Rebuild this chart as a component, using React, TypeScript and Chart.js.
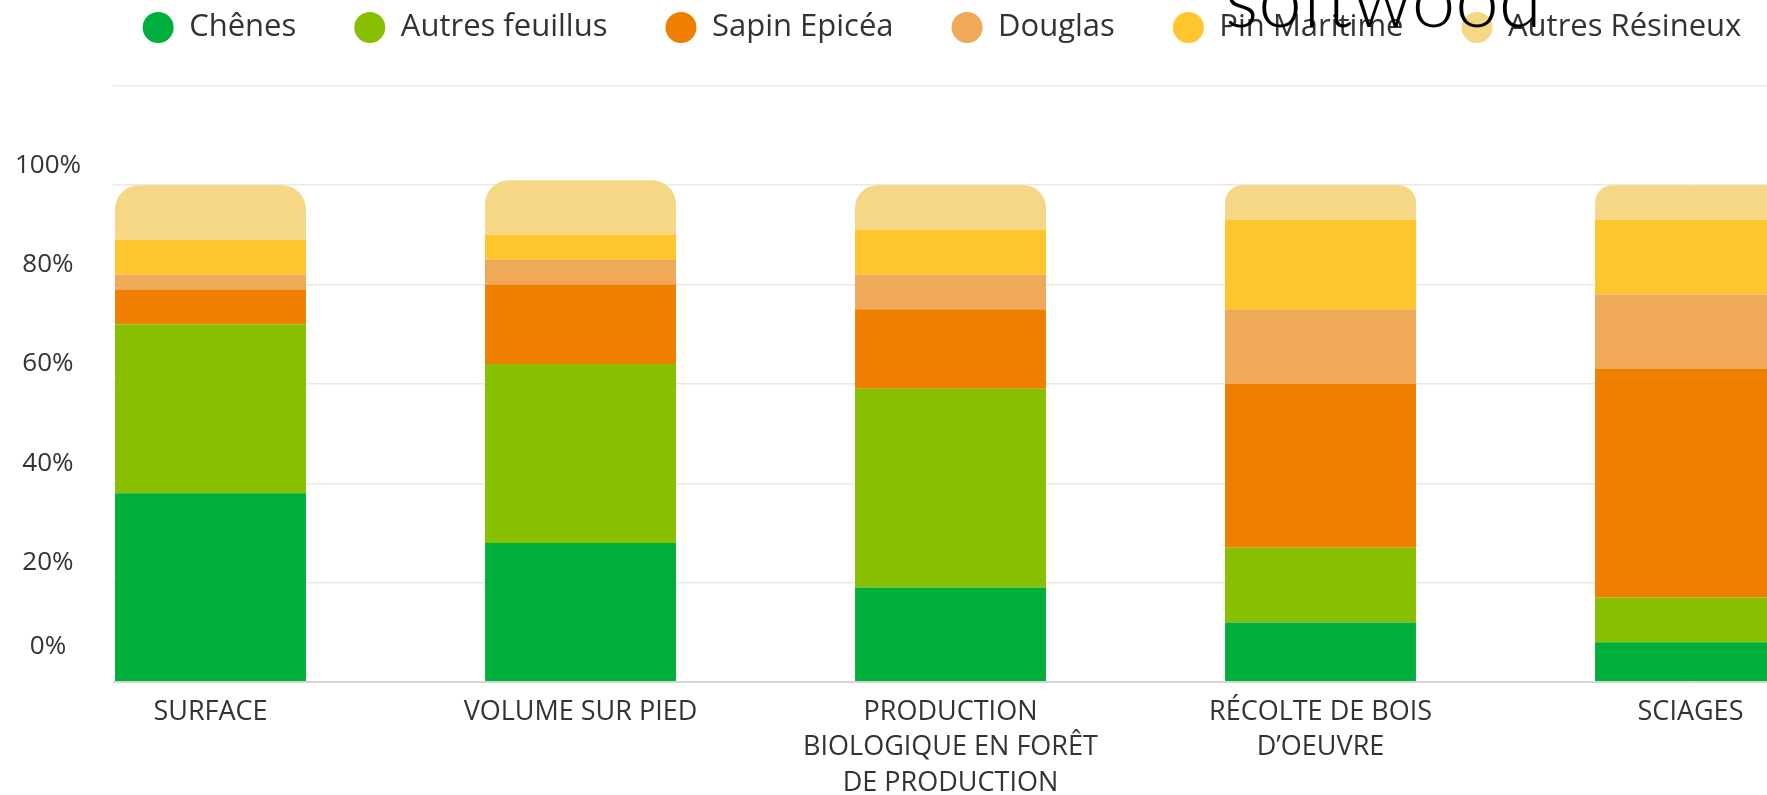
import React, { useEffect, useRef } from 'react';
import { Chart, registerables } from 'chart.js';

Chart.register(...registerables);

// ---------- data ----------
const categories: string[][] = [
  ['SURFACE'],
  ['VOLUME SUR PIED'],
  ['PRODUCTION', 'BIOLOGIQUE EN FORÊT', 'DE PRODUCTION'],
  ['RÉCOLTE DE BOIS', 'D’OEUVRE'],
  ['SCIAGES'],
];
const seriesNames = ['Chênes', 'Autres feuillus', 'Sapin Epicéa', 'Douglas', 'Pin Maritime', 'Autres Résineux'];
const chenes = [38, 28, 19, 12, 8];
const autresFeuillus = [34, 36, 40, 15, 9];
const sapinEpicea = [7, 16, 16, 33, 46];
const douglas = [3, 5, 7, 15, 15];
const pinMaritime = [7, 5, 9, 18, 15];
const autresResineux = [11, 11, 9, 7, 7];
const seriesColors = ['#00AE3C', '#86C000', '#EE7F00', '#EFA957', '#FFC52C', '#F6D785'];
const yTickValues = [0, 20, 40, 60, 80, 100, 120];
const yLabelMax = 100;
const overlayWord = 'softwood';

// ---------- layout constants ----------
const PAGE_W = 1767;
const PAGE_H = 795;
const CANVAS_W = 1884;
const CANVAS_H = 848;
const CANVAS_TOP = -46;
const Y_MAX = 126.6;
const FONT = 'Open Sans';
const TEXT_COLOR = '#333333';

const gridColor = (c: any) => (c.tick && c.tick.value === 0 ? '#d4d4d4' : '#e9e9e9');
const gridWidth = (c: any) => (c.tick && c.tick.value === 0 ? 2 : 1.5);
const setTicks = (s: any) => {
  s.ticks = yTickValues.map((v) => ({ value: v }));
};

const overlayPlugin = {
  id: 'overlayWord',
  afterDraw(chart: any) {
    const ctx = chart.ctx as CanvasRenderingContext2D;
    ctx.save();
    ctx.font = '300 100px Lato';
    const w = ctx.measureText(overlayWord).width || 1;
    const size = (100 * 317) / w;
    ctx.font = `300 ${size}px Lato`;
    ctx.fillStyle = '#000000';
    ctx.textAlign = 'left';
    ctx.textBaseline = 'alphabetic';
    ctx.fillText(overlayWord, 1225, 27 - CANVAS_TOP);
    ctx.restore();
  },
};

export default function App() {
  const ref = useRef<HTMLCanvasElement | null>(null);

  useEffect(() => {
    if (!ref.current) return;
    const seriesValues = [chenes, autresFeuillus, sapinEpicea, douglas, pinMaritime, autresResineux];
    const datasets = seriesNames.map((name, i) => ({
      label: name,
      data: seriesValues[i],
      backgroundColor: seriesColors[i],
      borderWidth: 0,
      borderSkipped: 'start' as const,
      borderRadius:
        i === seriesNames.length - 1
          ? { topLeft: 24, topRight: 24, bottomLeft: 0, bottomRight: 0 }
          : 0,
      clip: false as const,
      yAxisID: 'y',
      xAxisID: 'x',
      categoryPercentage: 0.516,
      barPercentage: 1,
    }));

    const chart = new Chart(ref.current, {
      type: 'bar',
      data: { labels: categories, datasets },
      plugins: [overlayPlugin],
      options: {
        responsive: false,
        animation: false,
        events: [],
        layout: { padding: 0 },
        font: { family: FONT },
        plugins: {
          tooltip: { enabled: false },
          title: { display: false },
          legend: {
            display: true,
            position: 'top',
            align: 'center',
            labels: {
              usePointStyle: true,
              pointStyle: 'circle',
              pointStyleWidth: 31,
              boxHeight: 22,
              padding: 58,
              color: TEXT_COLOR,
              font: { family: FONT, size: 31 },
            },
          },
        },
        scales: {
          x: {
            type: 'category',
            stacked: true,
            offset: false,
            grid: { display: false, drawTicks: false },
            border: { display: false },
            ticks: {
              autoSkip: false,
              maxRotation: 0,
              minRotation: 0,
              padding: 12,
              color: TEXT_COLOR,
              font: { family: FONT, size: 27, lineHeight: 1.32 },
            },
            afterFit: (s: any) => {
              s.height = 120;
            },
          },
          y: {
            type: 'linear',
            stacked: true,
            min: 0,
            max: Y_MAX,
            afterBuildTicks: setTicks,
            afterFit: (s: any) => {
              s.width = 210.5;
            },
            grid: {
              drawTicks: true,
              tickLength: 97.5,
              color: gridColor,
              lineWidth: gridWidth,
            },
            border: { display: false },
            ticks: {
              autoSkip: false,
              labelOffset: -20,
              padding: 32,
              crossAlign: 'center',
              color: TEXT_COLOR,
              font: { family: FONT, size: 26 },
              callback: (v: any) => {
                const n = Number(v);
                if (n > yLabelMax) return '';
                if (n === 0) return ['0%', ''];
                return n + '%';
              },
            },
          },
          yPad: {
            type: 'linear',
            position: 'right',
            display: true,
            min: 0,
            max: Y_MAX,
            afterBuildTicks: setTicks,
            grid: {
              display: true,
              drawOnChartArea: false,
              drawTicks: true,
              tickLength: 193.5,
              color: gridColor,
              lineWidth: gridWidth,
            },
            border: { display: false },
            ticks: { display: false },
            afterFit: (s: any) => {
              s.width = 193.5;
            },
          },
        },
      } as any,
    });
    return () => chart.destroy();
  }, []);

  return (
    <div
      style={{
        position: 'absolute',
        left: 0,
        top: 0,
        width: PAGE_W,
        height: PAGE_H,
        overflow: 'hidden',
        background: '#ffffff',
      }}
    >
      <canvas
        ref={ref}
        width={CANVAS_W}
        height={CANVAS_H}
        style={{ position: 'absolute', left: 0, top: CANVAS_TOP, width: CANVAS_W, height: CANVAS_H }}
      />
    </div>
  );
}
